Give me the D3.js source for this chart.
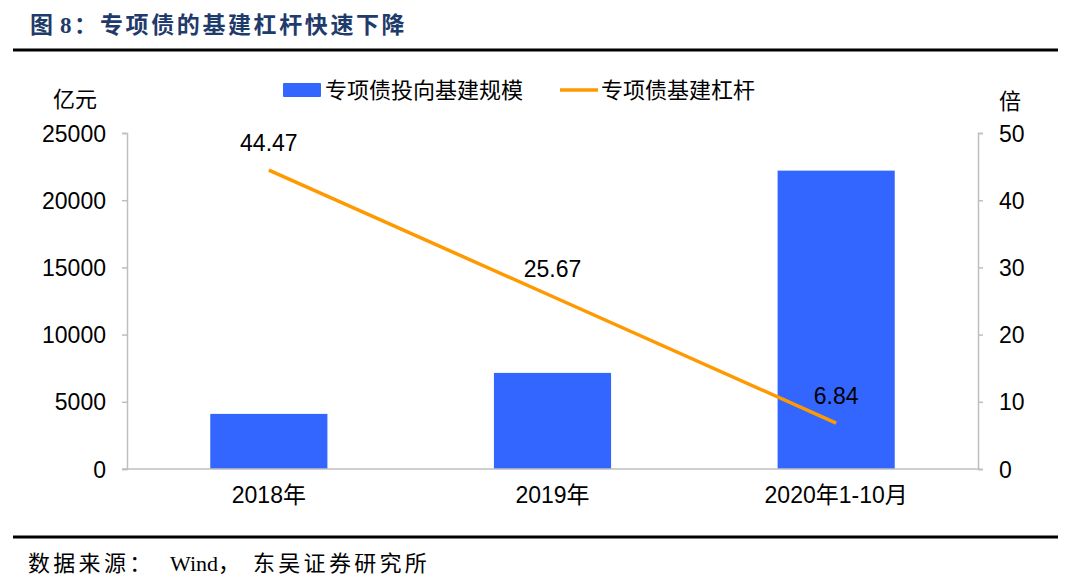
<!DOCTYPE html>
<html><head><meta charset="utf-8">
<script src="https://cdn.jsdelivr.net/npm/d3@7"></script>
<style>
body{margin:0;background:#fff;}
svg{display:block;}
</style></head>
<body><svg id="c" width="1080" height="585"></svg>
<script>
const categories = ["2018年", "2019年", "2020年1-10月"];
const scaleValues = [4100, 7150, 22200];
const leverageValues = [44.47, 25.67, 6.84];
const leftTicks = [0, 5000, 10000, 15000, 20000, 25000];
const rightTicks = [0, 10, 20, 30, 40, 50];
const seriesNames = ["专项债投向基建规模", "专项债基建杠杆"];

const svg = d3.select("#c");
const font = "'Liberation Sans', Arial, 'Noto Sans CJK SC', sans-serif";
const serif = "'Liberation Serif','Noto Sans CJK SC',serif";
const axisColor = "#bfbfbf";
const barColor = "#3366FF";
const lineColor = "#FF9900";

// Title
const title = svg.append("text").attr("y", 33)
  .attr("font-family", serif).attr("font-weight", "bold").attr("font-size", 23).attr("fill", "#1f3b6b");
title.append("tspan").attr("x", 30).text("图");
title.append("tspan").attr("x", 60).text("8");
title.append("tspan").attr("x", 74).text("：");
title.append("tspan").attr("x", 100).attr("letter-spacing", 2.6).text("专项债的基建杠杆快速下降");
svg.append("line").attr("x1", 13).attr("x2", 1058).attr("y1", 50).attr("y2", 50)
  .attr("stroke", "#000").attr("stroke-width", 3);

const L = 127, R = 978, T = 133, B = 469;
const x0 = d3.scaleBand().domain(categories).range([L, R]);
const yL = d3.scaleLinear().domain([0, 25000]).range([B, T]);
const yR = d3.scaleLinear().domain([0, 50]).range([B, T]);
const barW = x0.bandwidth() * 0.413;

// Bars
svg.append("g").selectAll("rect").data(scaleValues).join("rect")
  .attr("x", (d, i) => x0(categories[i]) + x0.bandwidth() / 2 - barW / 2)
  .attr("width", barW)
  .attr("y", d => yL(d)).attr("height", d => B - yL(d))
  .attr("fill", barColor);

// Left axis
const gl = svg.append("g").attr("transform", `translate(${L},0)`)
  .call(d3.axisLeft(yL).tickValues(leftTicks).tickSize(5).tickPadding(16).tickFormat(d3.format("d")));
// Right axis
const gr = svg.append("g").attr("transform", `translate(${R},0)`)
  .call(d3.axisRight(yR).tickValues(rightTicks).tickSize(5).tickPadding(16));
// X axis
const gx = svg.append("g").attr("transform", `translate(0,${B})`)
  .call(d3.axisBottom(x0).tickSize(0).tickPadding(18));
gx.select(".domain").attr("d", `M${L - 5},0H${R + 2}`);

[gl, gr, gx].forEach(g => {
  g.selectAll(".domain").attr("stroke", axisColor).attr("stroke-width", 1.5);
  g.selectAll(".tick line").attr("stroke", axisColor).attr("stroke-width", 1.5);
  g.selectAll("text").attr("font-family", font).attr("font-size", 23).attr("fill", "#000");
});
gl.selectAll(".tick text").attr("dy", "0.35em");
gr.selectAll(".tick text").attr("dy", "0.35em");
gx.selectAll(".tick text").attr("dy", "0.71em");

// Line
const cx = (d, i) => x0(categories[i]) + x0.bandwidth() / 2;
svg.append("path").datum(leverageValues)
  .attr("d", d3.line().x(cx).y(d => yR(d)))
  .attr("fill", "none").attr("stroke", lineColor).attr("stroke-width", 3.5);

svg.append("g").selectAll("text").data(leverageValues).join("text")
  .attr("x", cx).attr("y", d => yR(d) - 19)
  .attr("text-anchor", "middle").attr("font-family", font).attr("font-size", 23)
  .text(d => d.toFixed(2));

// Unit labels
svg.append("text").attr("x", 75).attr("y", 107).attr("text-anchor", "middle")
  .attr("font-family", font).attr("font-size", 22).text("亿元");
svg.append("text").attr("x", 1010).attr("y", 109).attr("text-anchor", "middle")
  .attr("font-family", font).attr("font-size", 22).text("倍");

// Legend
const lg = svg.append("g");
lg.append("rect").attr("x", 283).attr("y", 83).attr("width", 38).attr("height", 14).attr("rx", 1).attr("fill", barColor);
lg.append("text").attr("x", 325).attr("y", 98).attr("font-family", font).attr("font-size", 22).text(seriesNames[0]);
lg.append("line").attr("x1", 560).attr("x2", 598).attr("y1", 90).attr("y2", 90).attr("stroke", lineColor).attr("stroke-width", 3.5);
lg.append("text").attr("x", 601).attr("y", 98).attr("font-family", font).attr("font-size", 22).text(seriesNames[1]);

// Footer
svg.append("line").attr("x1", 13).attr("x2", 1058).attr("y1", 537).attr("y2", 537)
  .attr("stroke", "#000").attr("stroke-width", 3);
const ft = svg.append("text").attr("y", 571).attr("font-family", serif).attr("font-size", 22).attr("fill", "#000");
ft.append("tspan").attr("x", 28).attr("letter-spacing", 3.3).text("数据来源：");
ft.append("tspan").attr("x", 170).text("Wind，");
ft.append("tspan").attr("x", 253).attr("letter-spacing", 3.3).text("东吴证券研究所");
</script></body></html>
